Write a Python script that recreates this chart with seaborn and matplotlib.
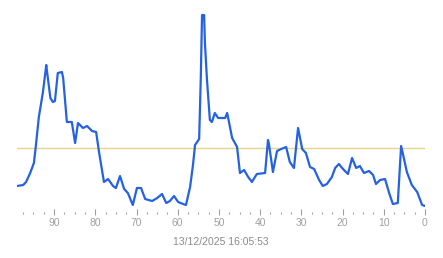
import matplotlib
matplotlib.use("Agg")
import matplotlib.pyplot as plt
import seaborn as sns
import pandas as pd
from matplotlib.ticker import MultipleLocator

# seconds ago (x) and measured value (y, arbitrary units)
seconds_ago = [99.0, 97.5, 96.8, 95.8, 94.9, 94.4, 93.7, 92.7, 91.9, 91.7,
               90.9, 90.3, 89.8, 89.1, 88.1, 87.8, 86.9, 85.7, 84.9, 84.2,
               83.0, 82.0, 80.8, 79.8, 79.1, 77.9, 76.9, 75.7, 75.0, 74.0,
               73.0, 72.1, 70.9, 69.9, 68.9, 67.9, 66.2, 65.0, 63.8, 62.8,
               61.9, 60.9, 59.9, 58.7, 58.0, 57.0, 56.3, 55.8, 54.8, 54.4,
               54.1, 53.6, 53.4, 52.9, 52.2, 51.7, 51.0, 50.2, 48.5, 48.0,
               46.8, 45.6, 44.9, 43.9, 42.9, 42.0, 40.8, 38.8, 38.1, 37.9,
               36.9, 35.9, 34.9, 33.7, 32.8, 31.8, 30.8, 29.8, 28.9, 27.9,
               26.9, 25.7, 24.8, 23.8, 22.6, 21.8, 20.9, 19.9, 18.7, 17.7,
               16.7, 15.8, 14.8, 13.6, 12.6, 11.9, 10.9, 9.7, 8.7, 7.8,
               6.6, 5.8, 5.3, 4.4, 3.2, 1.9, 0.7, 0.0]
values = [26, 27, 30, 39, 49, 67, 95, 120, 147, 140,
          114, 110, 111, 139, 140, 134, 90, 90, 69, 89,
          84, 86, 81, 80, 60, 30, 33, 26, 24, 36,
          23, 19, 7, 24, 24, 13, 11, 14, 18, 9,
          11, 16, 10, 8, 7, 25, 47, 67, 73, 135,
          197, 197, 169, 132, 92, 90, 99, 94, 94, 99,
          74, 65, 39, 42, 35, 30, 38, 39, 72, 69,
          40, 61, 63, 65, 50, 44, 84, 63, 59, 45,
          43, 32, 26, 28, 35, 44, 48, 43, 38, 54,
          44, 46, 39, 41, 37, 28, 32, 33, 19, 8,
          9, 66, 57, 40, 27, 20, 7, 6]
threshold = 64
tick_values = [90, 80, 70, 60, 50, 40, 30, 20, 10, 0]
timestamp_label = "13/12/2025 16:05:53"

sns.set_style("white")
plt.rcParams["font.family"] = ["Liberation Sans", "DejaVu Sans"]

df = pd.DataFrame({"seconds": seconds_ago, "value": values})

fig = plt.figure(figsize=(4.43, 2.58), dpi=100)
ax = fig.add_axes([17 / 443, 46 / 258, 408 / 443, 207 / 258])

ax.axhline(threshold, color="#e8d48c", lw=1.0, zorder=1)
sns.lineplot(data=df, x="seconds", y="value", ax=ax, color="#2461e3",
             lw=1.6, zorder=3)

ax.set_xlim(99, 0)
ax.set_ylim(0, 207)
for s in ax.spines.values():
    s.set_visible(False)

ax.set_yticks([])
ax.set_ylabel("")
ax.set_xticks(tick_values)
ax.set_xticklabels([str(t) for t in tick_values])
ax.xaxis.set_minor_locator(MultipleLocator(2.5))
ax.tick_params(axis="x", which="major", bottom=True, direction="inout",
               length=4, width=0.8, color="#a0a0a0", labelsize=7.5,
               labelcolor="#a0a0a0", pad=2.5)
ax.tick_params(axis="x", which="minor", bottom=True, direction="out",
               length=1.2, width=0.8, color="#a0a0a0")
ax.set_xlabel(timestamp_label, fontsize=7.5, color="#8a8a8a", labelpad=6)

fig.savefig("out.png", dpi=100)
